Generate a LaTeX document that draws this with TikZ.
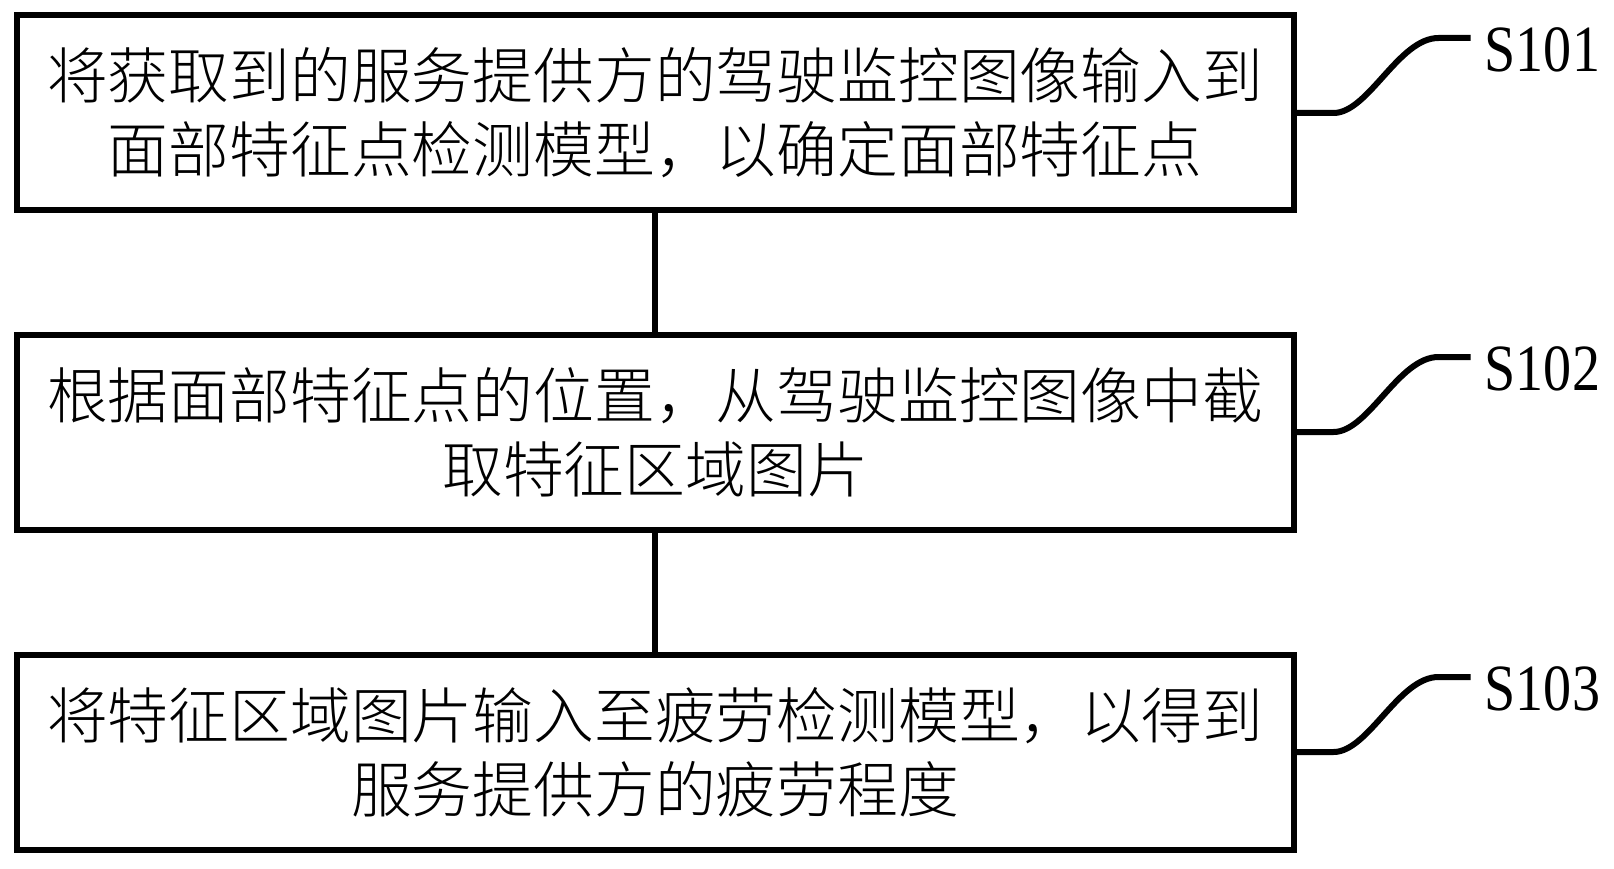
\documentclass[tikz,border=0pt]{standalone}
\usepackage{fontspec}
\IfFontExistsTF{Noto Sans CJK SC Light}
  {\newfontfamily\cjk{Noto Sans CJK SC Light}}
  {\newfontfamily\cjk{Noto Sans CJK SC}}
\newfontfamily\lab{Liberation Serif}[FakeStretch=0.85]
\begin{document}
\begin{tikzpicture}[x=1pt,y=-1pt,
  stepbox/.style={draw=black, line width=6pt, minimum width=1277pt, minimum height=195pt,
    inner sep=0pt, align=center, font=\cjk\fontsize{60.8}{74}\selectfont},
  conn/.style={line width=6pt},
  steplabel/.style={anchor=west, inner sep=0pt, font=\lab\fontsize{66}{66}\selectfont}]
\useasboundingbox (0,0) rectangle (1614,869);
\node[stepbox] (b1) at (655,113) {将获取到的服务提供方的驾驶监控图像输入到\\面部特征点检测模型，以确定面部特征点};
\node[stepbox] (b2) at (655,432) {根据面部特征点的位置，从驾驶监控图像中截\\取特征区域图片};
\node[stepbox] (b3) at (655,752) {将特征区域图片输入至疲劳检测模型，以得到\\服务提供方的疲劳程度};
\draw[conn] (b1.south) -- (b2.north);
\draw[conn] (b2.south) -- (b3.north);
\foreach \b/\n/\t in {b1/1/S101, b2/2/S102, b3/3/S103}{
  \coordinate (e\n) at ([xshift=174pt,yshift=75pt]\b.east);
  \node[steplabel] (l\n) at ([xshift=14pt,yshift=-12pt]e\n) {\t};
  \draw[conn] (\b.east) -- ++(37,0) .. controls +(35,0) and +(-40,0) .. ([xshift=-32pt]e\n) -- (e\n);
}
\end{tikzpicture}
\end{document}
